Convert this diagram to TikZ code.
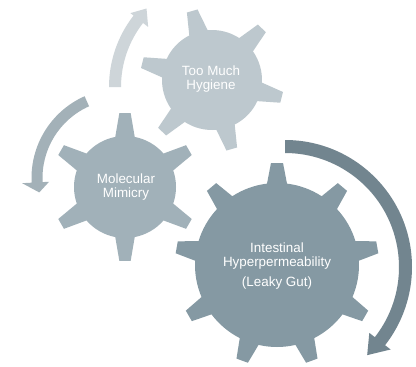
\documentclass[tikz,border=0pt]{standalone}
\usepackage{fontspec}
\setmainfont{Liberation Sans}
\definecolor{gearA}{RGB}{189,200,206}
\definecolor{gearB}{RGB}{161,177,185}
\definecolor{gearC}{RGB}{133,153,163}
\definecolor{arrA}{RGB}{206,213,217}
\definecolor{arrB}{RGB}{163,177,184}
\definecolor{arrC}{RGB}{114,133,143}
% #1 colour, #2 centre, #3 body radius, #4 tip radius, #5 teeth, #6 first angle, #7 base half-angle, #8 tip half-angle
\newcommand\drawgear[8]{%
  \begin{scope}[shift={#2}]
    \fill[#1] (#6-#7:#3)
      \foreach \k [evaluate=\k as \a using {#6+(\k-1)*360/#5},
                   evaluate=\k as \b using {#6+\k*360/#5}] in {1,...,#5} {
        -- (\a-#8:#4) -- (\a+#8:#4) -- (\a+#7:#3)
        arc[start angle=\a+#7, end angle=\b-#7, radius=#3]
      } -- cycle;
  \end{scope}}
\tikzset{lbl/.style={text=white, align=center, inner sep=0pt,
  font=\fontsize{13.4}{14.5}\selectfont}}
\begin{document}
\begin{tikzpicture}[x=1pt,y=1pt]
\useasboundingbox (0,0) rectangle (416,-367);
\fill[white] (0,0) rectangle (416,-367);
% gears
\drawgear{gearA}{(212,-80)}{50}{72}{6}{106}{11}{4.4}
\drawgear{gearB}{(125,-187)}{51}{74}{6}{90}{11}{4.4}
\drawgear{gearC}{(277,-265)}{82}{102}{9}{90}{7}{3.4}
% arrows
\begin{scope}[shift={(225,-87)}]
  \fill[arrA] (180:116) arc[start angle=180,end angle=142,radius=116]
    -- (142:120) -- (135:111) -- (142:97.5) -- (142:104)
    arc[start angle=142,end angle=180,radius=104] -- cycle;
\end{scope}
\begin{scope}[shift={(121,-178)}]
  \fill[arrB] (114:89.5) arc[start angle=114,end angle=183,radius=89.5]
    -- (183:99) -- (190:83) -- (183:72) -- (183:78.5)
    arc[start angle=183,end angle=114,radius=78.5] -- cycle;
\end{scope}
\begin{scope}[shift={(285,-267)}]
  \fill[arrC] (90:127) arc[start angle=90,end angle=-38,radius=127]
    -- (-38:134) -- (-47:120.5) -- (-38:107) -- (-38:114)
    arc[start angle=-38,end angle=90,radius=114] -- cycle;
\end{scope}
% labels
\node[lbl] (hyg) at (211,-79) {Too Much\\Hygiene};
\node[lbl] (mol) at (126,-187) {Molecular\\Mimicry};
\node[lbl] (leak) at (277,-266) {Intestinal\\Hyperpermeability\\[5pt](Leaky Gut)};
\end{tikzpicture}
\end{document}
